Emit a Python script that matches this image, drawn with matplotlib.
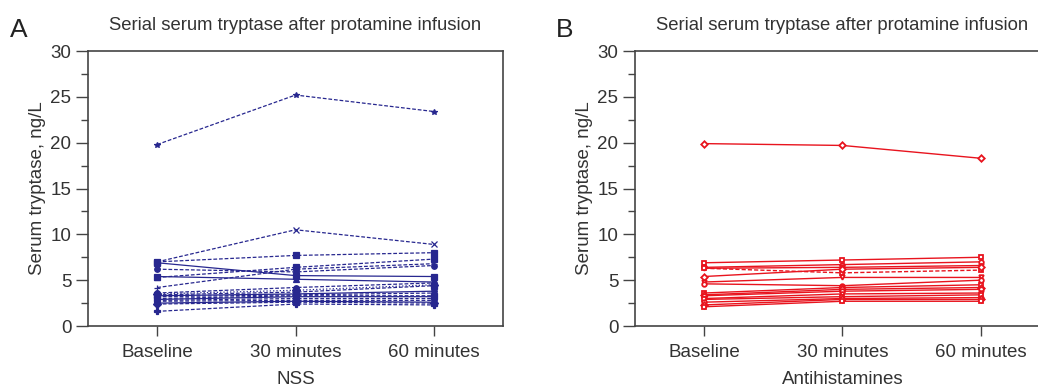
import matplotlib.pyplot as plt
from matplotlib.ticker import MultipleLocator

plt.rcParams['font.family'] = ['Liberation Sans', 'DejaVu Sans']

times = ['Baseline', '30 minutes', '60 minutes']

# NSS group (panel A), one value per subject per time point
nss_base = [19.8, 7.0, 7.0, 6.9, 6.2, 5.3, 5.4, 4.2, 3.6, 3.5, 3.4, 3.3, 3.2, 3.0, 2.9, 2.8, 2.7, 2.5, 2.4, 1.6]
nss_30 = [25.2, 10.5, 7.7, 5.5, 5.9, 6.4, 5.1, 6.2, 4.2, 3.9, 3.7, 3.5, 3.4, 3.3, 3.2, 3.0, 2.8, 2.7, 2.6, 2.4]
nss_60 = [23.4, 8.9, 8.0, 5.4, 6.6, 7.3, 4.8, 6.8, 4.7, 4.5, 4.4, 3.8, 3.6, 3.3, 3.2, 3.0, 2.8, 2.6, 2.5, 2.3]
nss_marker = ['*', 'x', 's', 's', 'o', 's', '^', '+', 'o', 'D', 's', 'o', 'd', 's', 'o', 'v', 'p', 'h', 'D', 'P']
nss_style = ['--', '--', '--', '-', '--', '--', '-', '--', '--', ':', '--', '-', '--', '--', '-', '--', '--', '-', '--', '--']

# Antihistamine group (panel B)
ah_base = [19.9, 6.9, 6.4, 6.3, 6.3, 5.4, 4.8, 4.6, 3.6, 3.4, 3.3, 3.0, 2.9, 2.6, 2.3, 2.1]
ah_30 = [19.7, 7.2, 6.7, 6.4, 5.8, 6.2, 5.3, 4.4, 4.2, 4.0, 3.8, 3.5, 3.2, 3.0, 2.9, 2.7]
ah_60 = [18.3, 7.5, 7.0, 6.6, 6.1, 6.4, 5.3, 5.0, 4.5, 4.2, 4.0, 3.6, 3.4, 3.1, 2.9, 2.7]
ah_marker = ['D', 's', 'o', 'v', 's', 'D', 'v', 'o', 's', 'D', 'o', 'v', 's', 'o', 'D', 's']
ah_style = ['-', '-', '-', '-', '--', '-', '-', '-', '-', '-', '-', '-', '-', '-', '-', '-']

navy = '#27278f'
red = '#e8141e'
txt = '#333333'

fig = plt.figure(figsize=(10.38, 3.86), dpi=100)
axA = fig.add_axes([0.0848, 0.1554, 0.3998, 0.7124])
axB = fig.add_axes([0.6117, 0.1554, 0.3998, 0.7124])

x = [1, 2, 3]
for i in range(len(nss_base)):
    ls = nss_style[i]
    kw = dict(dashes=(3, 1.5)) if ls == '--' else {}
    axA.plot(x, [nss_base[i], nss_30[i], nss_60[i]], color=navy, lw=0.9, linestyle=ls,
             marker=nss_marker[i], ms=4, mfc=navy, mec=navy, mew=0.9, **kw)

for i in range(len(ah_base)):
    ls = ah_style[i]
    kw = dict(dashes=(3, 1.5)) if ls == '--' else {}
    axB.plot(x, [ah_base[i], ah_30[i], ah_60[i]], color=red, lw=1.0, linestyle=ls,
             marker=ah_marker[i], ms=3.3, mfc='white', mec=red, mew=1.3, **kw)

for ax, xlab, letter in [(axA, 'NSS', 'A'), (axB, 'Antihistamines', 'B')]:
    ax.set_xlim(0.5, 3.5)
    ax.set_ylim(0, 30)
    ax.set_xticks(x)
    ax.set_xticklabels(times)
    ax.yaxis.set_major_locator(MultipleLocator(5))
    ax.yaxis.set_minor_locator(MultipleLocator(2.5))
    ax.tick_params(axis='y', which='major', length=9, width=1, color='#444444',
                   labelsize=13.5, labelcolor=txt, pad=3)
    ax.tick_params(axis='y', which='minor', length=5, width=1, color='#444444')
    ax.tick_params(axis='x', length=7, width=1, color='#444444', labelsize=13.5,
                   labelcolor=txt, pad=6)
    for s in ax.spines.values():
        s.set_color('#444444')
        s.set_linewidth(1.2)
    ax.set_xlabel(xlab, fontsize=13.5, color=txt, labelpad=7)
    ax.set_ylabel('Serum tryptase, ng/L', fontsize=13.5, color=txt, labelpad=3)
    ax.set_title('Serial serum tryptase after protamine infusion', fontsize=13.3,
                 color=txt, pad=15)

fig.text(0.010, 0.905, 'A', fontsize=19, color='#222222')
fig.text(0.536, 0.905, 'B', fontsize=19, color='#222222')

fig.savefig('out.png', dpi=100)
